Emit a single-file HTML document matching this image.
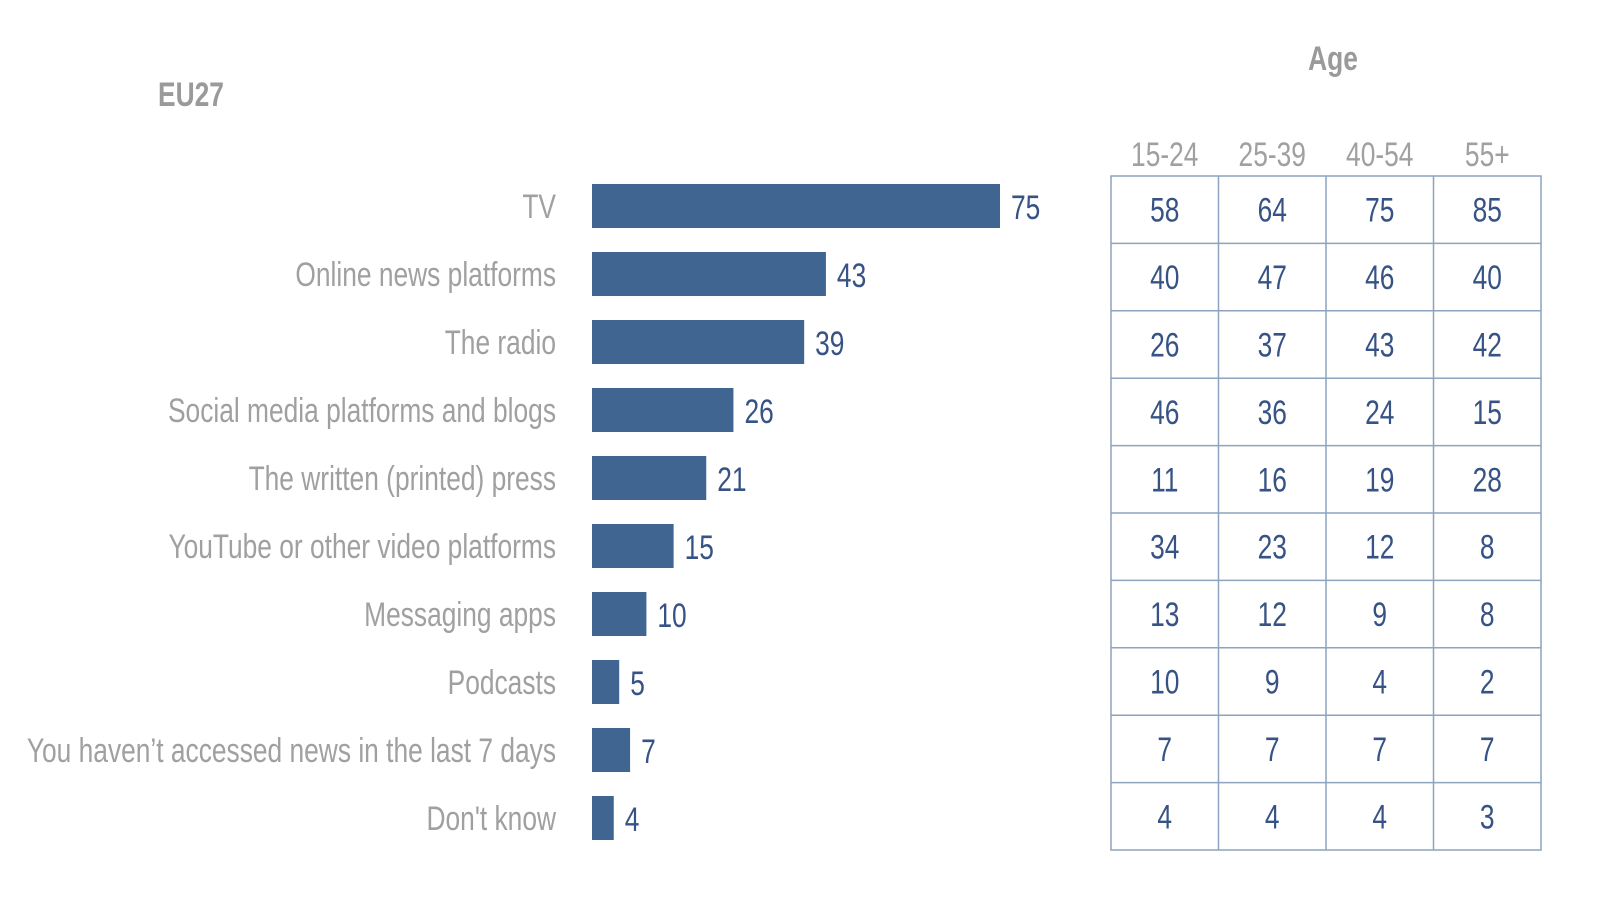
<!DOCTYPE html>
<html><head><meta charset="utf-8"><style>
html,body{margin:0;padding:0;background:#fff;}
svg{display:block;font-family:"Liberation Sans Narrow","Liberation Sans",sans-serif;}
</style></head><body>
<svg id="chart" width="1600" height="899" viewBox="0 0 1600 899"></svg>
<script>
const categories=["TV","Online news platforms","The radio","Social media platforms and blogs","The written (printed) press","YouTube or other video platforms","Messaging apps","Podcasts","You haven\u2019t accessed news in the last 7 days","Don't know"];
const eu27=[75,43,39,26,21,15,10,5,7,4];
const ageGroups=["15-24","25-39","40-54","55+"];
const age1524=[58,40,26,46,11,34,13,10,7,4];
const age2539=[64,47,37,36,16,23,12,9,7,4];
const age4054=[75,46,43,24,19,12,9,4,7,4];
const age55=[85,40,42,15,28,8,8,2,7,3];
const ageSeries=[age1524,age2539,age4054,age55];

const NS="http://www.w3.org/2000/svg";
const svg=document.getElementById('chart');
const SX=0.775;
function txt(x,y,s,size,fill,anchor,weight){
  const t=document.createElementNS(NS,'text');
  t.setAttribute('transform',`translate(${x},${y}) scale(${SX},1)`);
  t.setAttribute('font-size',size);t.setAttribute('fill',fill);
  t.setAttribute('text-anchor',anchor||'start');
  if(weight)t.setAttribute('font-weight',weight);
  t.textContent=s;svg.appendChild(t);return t;
}
const x0=592, k=408/75;
const xScale=v=>x0+v*k;
const rowY=i=>206+i*68;
const grey="#a0a0a0", blue="#3f6590", num="#375385";

let t=txt(158,106,"EU27",34,"#9a9a9a","start","bold");


t=txt(1333,70,"Age",34,"#9a9a9a","middle","bold");



categories.forEach((c,i)=>{
  const y=rowY(i);
  let l=txt(556,y+12,c,34,grey,"end");
  
  
  const r=document.createElementNS(NS,'rect');
  r.setAttribute('x',x0);r.setAttribute('y',y-22);
  r.setAttribute('width',xScale(eu27[i])-x0);r.setAttribute('height',44);
  r.setAttribute('fill',blue);
  
  
  svg.appendChild(r);
  let v=txt(xScale(eu27[i])+11,y+13,String(eu27[i]),34,num,"start");
  
  
});

const tx=1111, tw=430, ty=176, th=674, cw=tw/4, rh=th/10;
ageGroups.forEach((g,j)=>{
  let h=txt(tx+cw*j+cw/2,166,g,34,grey,"middle");
  
  
});
const border=document.createElementNS(NS,'rect');
border.setAttribute('x',tx);border.setAttribute('y',ty);
border.setAttribute('width',tw);border.setAttribute('height',th);
border.setAttribute('fill','none');border.setAttribute('stroke','#8ea3bd');border.setAttribute('stroke-width',1.5);


svg.appendChild(border);
for(let j=1;j<4;j++){
  const l=document.createElementNS(NS,'line');
  l.setAttribute('x1',tx+cw*j);l.setAttribute('x2',tx+cw*j);l.setAttribute('y1',ty);l.setAttribute('y2',ty+th);
  l.setAttribute('stroke','#8ea3bd');l.setAttribute('stroke-width',1.5);
  
  
  svg.appendChild(l);
}
for(let i=1;i<10;i++){
  const l=document.createElementNS(NS,'line');
  l.setAttribute('x1',tx);l.setAttribute('x2',tx+tw);l.setAttribute('y1',ty+rh*i);l.setAttribute('y2',ty+rh*i);
  l.setAttribute('stroke','#8ea3bd');l.setAttribute('stroke-width',1.5);
  
  
  svg.appendChild(l);
}
ageSeries.forEach((s,j)=>{
  s.forEach((v,i)=>{
    const c=txt(tx+cw*j+cw/2,ty+rh*i+rh/2+12,String(v),34,num,"middle");
    
    
  });
});
</script>
</body></html>
